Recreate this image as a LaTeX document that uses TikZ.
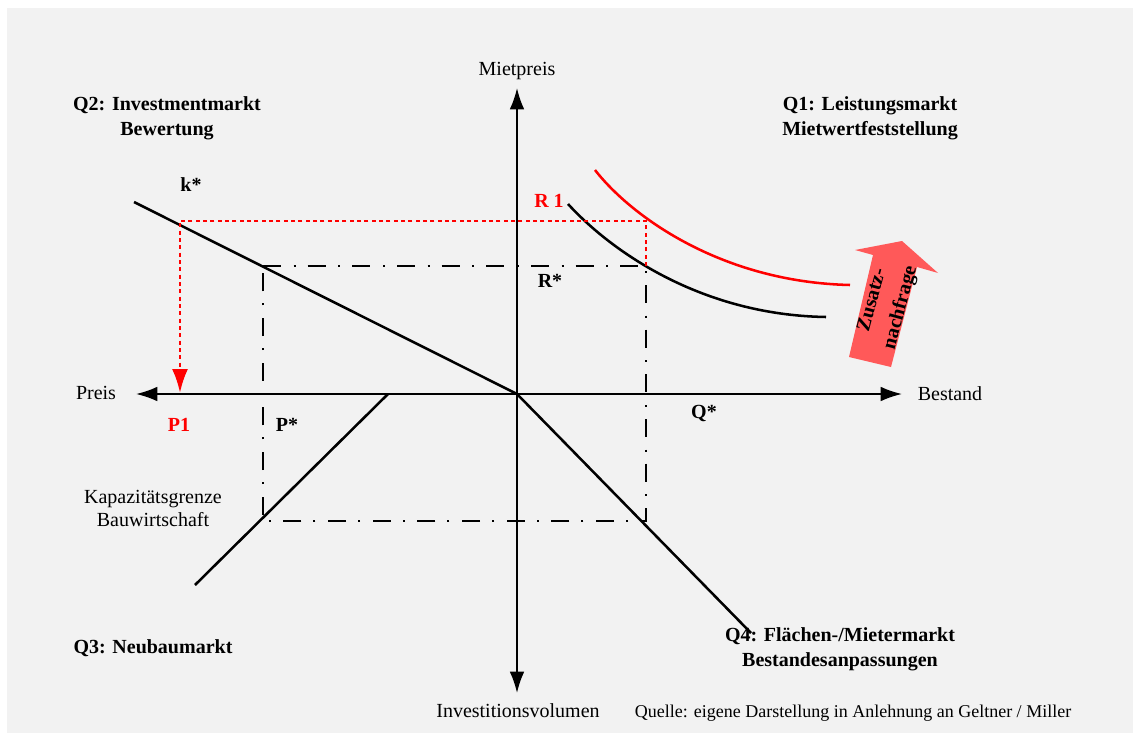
\documentclass[tikz,border=0pt]{standalone}
\usepackage{fontspec}
\setmainfont{Liberation Serif}
\usetikzlibrary{arrows.meta}
\tikzset{quadrant/.style={
  font=\bfseries\fontsize{15}{18.75}\selectfont,
  align=center,inner sep=0pt}}
\tikzset{axislabel/.style={
  font=\fontsize{15}{17.25}\selectfont,
  align=center,inner sep=0pt}}
\tikzset{marker/.style={font=\bfseries\fontsize{15}{18}\selectfont,inner sep=0pt}}
\tikzset{curve/.style={line width=1.9pt}}
\tikzset{guide/.style={line width=2pt,dash pattern=on 13.5pt off 9.5pt on 1.5pt off 9pt}}
\tikzset{shiftline/.style={red,line width=2pt,dash pattern=on 3pt off 2.5pt}}
\tikzset{>={Latex[length=16pt,width=11pt]}}

\begin{document}
\begin{tikzpicture}[x=0.75pt,y=-0.75pt]
  \useasboundingbox (0,0) rectangle (1145,735);
  \fill[gray!10] (7,8) rectangle (1133,733);
  % axes
  \coordinate (O) at (517,394);
  \coordinate (ytop) at (517,88);
  \coordinate (ybot) at (517,693);
  \coordinate (xleft) at (136,394);
  \coordinate (xright) at (902,394);
  \draw[<->,line width=1.4pt] (ybot) -- (ytop);
  \draw[<->,line width=1.4pt] (xleft) -- (xright);
  \node[axislabel] (mietpreis) at (517,71) {Mietpreis};
  \node[axislabel] (preis) at (96,393) {Preis};
  \node[axislabel] (bestand) at (950,394) {Bestand};
  \node[axislabel] (invest) at (518,711) {Investitionsvolumen};
  % market lines
  \coordinate (k) at (134,202);
  \coordinate (q4end) at (751,633);
  \coordinate (q3top) at (388,394);
  \coordinate (q3end) at (195,585);
  \draw[curve] (k) -- (O) -- (q4end);
  \draw[curve] (q3top) -- (q3end);
  % demand curves
  \coordinate (d0a) at (568,204);
  \coordinate (d0b) at (826,317);
  \coordinate (d1a) at (595,170);
  \coordinate (d1b) at (850,285);
  \draw[curve] (d0a) .. controls (610,250) and (700,315) .. (d0b);
  \draw[curve,red] (d1a) .. controls (630,215) and (720,282) .. (d1b);
  % equilibrium
  \coordinate (ks) at (263,266);
  \coordinate (rs) at (646,266);
  \coordinate (qs) at (646,521);
  \coordinate (ps) at (263,521);
  \draw[guide] (ks) -- (rs) -- (qs) -- (ps) -- cycle;
  % shift
  \coordinate (r1) at (646,221);
  \coordinate (k1) at (180,221);
  \coordinate (p1) at (180,393);
  \draw[shiftline,-{Latex[length=18pt,width=12pt]}] (rs) -- (r1) -- (k1) -- (p1);
  % extra demand
  \coordinate (za) at (849,357);
  \coordinate (zb) at (873,255);
  \coordinate (zc) at (855,250);
  \coordinate (zd) at (902,241);
  \coordinate (ze) at (938,273);
  \coordinate (zf) at (917,267);
  \coordinate (zg) at (891,367);
  \fill[red!65] (za) -- (zb) -- (zc) -- (zd) -- (ze) -- (zf) -- (zg) -- cycle;
  \node[quadrant,rotate=75,font=\bfseries\fontsize{15}{22}\selectfont] (zusatz) at (887,304) {Zusatz-\\nachfrage};
  % labels
  \foreach \n/\p/\c/\t in {
      kstar/{(191,185)}/black/{k*},
      rone/{(549,201)}/red/{R 1},
      rstar/{(550,281)}/black/{R*},
      pone/{(179,425)}/red/{P1},
      pstar/{(287,425)}/black/{P*},
      qstar/{(704,413)}/black/{Q*} }
    \node[marker,text=\c] (\n) at \p {\t};
  \node[quadrant] (q2) at (167,118) {Q2: Investmentmarkt\\Bewertung};
  \node[quadrant] (q1) at (870,118) {Q1: Leistungsmarkt\\Mietwertfeststellung};
  \node[quadrant] (q3) at (153,648) {Q3: Neubaumarkt};
  \node[quadrant] (q4) at (840,649) {Q4: Flächen-/Mietermarkt\\Bestandesanpassungen};
  \node[axislabel] (kap) at (153,508) {Kapazitätsgrenze\\Bauwirtschaft};
  \node[axislabel,font=\fontsize{13.5}{16}\selectfont] (quelle) at (853,713)
    {Quelle: eigene Darstellung in Anlehnung an Geltner / Miller};
\end{tikzpicture}
\end{document}
